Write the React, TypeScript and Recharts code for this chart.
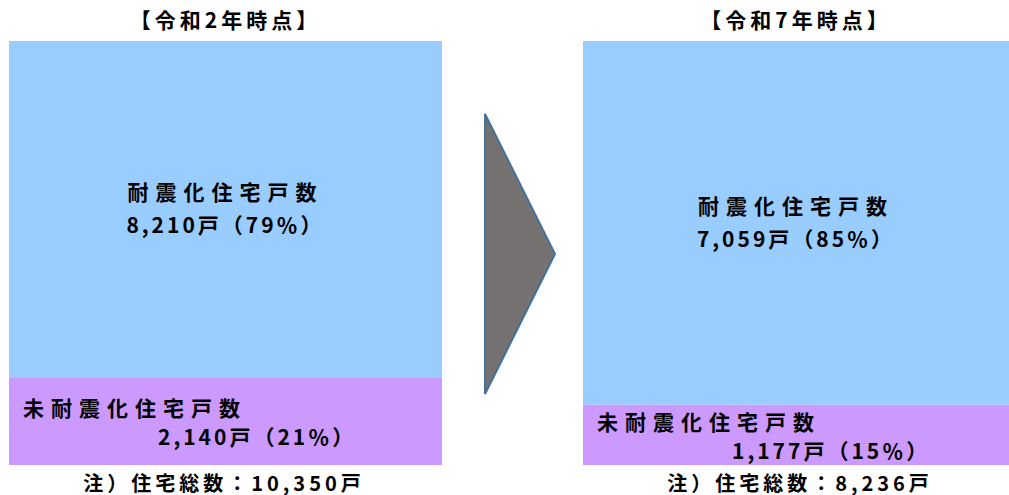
import { BarChart, Bar, XAxis, YAxis, LabelList } from 'recharts';

// 住宅戸数（令和2年 → 令和7年）
const periods = ['令和2年時点', '令和7年時点'];
const taishin = [8210, 7059];
const mitaishin = [2140, 1177];
const totals = [10350, 8236];
const taishinPct = [79, 85];
const mitaishinPct = [21, 15];

const FONT = '"Noto Sans CJK JP", "Noto Sans", sans-serif';
const BLUE = '#99CCFF';
const PURPLE = '#CC99FF';

const panels = [
  { left: 9, width: 433 },
  { left: 583, width: 426 },
];
const TOP = 41;
const BAR_H = 424;

const fmt = (v: number) => v.toLocaleString('en-US');

function BlueLabel(props: any) {
  const { x, y, width, height, idx } = props;
  const cx = x + width / 2;
  const cy = y + height / 2;
  return (
    <g fontFamily={FONT} fontWeight="bold" fill="#000" textAnchor="middle">
      <text x={cx} y={cy - 18} fontSize={21} dominantBaseline="central" style={{ letterSpacing: 7 }}>
        耐震化住宅戸数
      </text>
      <text x={cx} y={cy + 15} fontSize={21} dominantBaseline="central" style={{ letterSpacing: 3 }}>
        {`${fmt(taishin[idx])}戸（${taishinPct[idx]}％）`}
      </text>
    </g>
  );
}

function PurpleLabel(props: any) {
  const { x, y, height, idx } = props;
  const cy = y + height / 2;
  return (
    <g fontFamily={FONT} fontWeight="bold" fill="#000">
      <text x={x + 14} y={cy - 14} fontSize={21} dominantBaseline="central" style={{ letterSpacing: 7 }}>
        未耐震化住宅戸数
      </text>
      <text x={x + 149} y={cy + 15} fontSize={21} dominantBaseline="central" style={{ letterSpacing: 3 }}>
        {`${fmt(mitaishin[idx])}戸（${mitaishinPct[idx]}％）`}
      </text>
    </g>
  );
}

function Panel({ idx }: { idx: number }) {
  const data = [{ name: periods[idx], taishin: taishin[idx], mitaishin: mitaishin[idx] }];
  const p = panels[idx];
  return (
    <div style={{ position: 'absolute', left: p.left, top: TOP }}>
      <BarChart
        width={p.width}
        height={BAR_H}
        data={data}
        stackOffset="expand"
        barCategoryGap={0}
        margin={{ top: 0, right: 0, bottom: 0, left: 0 }}
      >
        <XAxis dataKey="name" hide />
        <YAxis hide domain={[0, 1]} />
        {/* first series in the stack sits at the bottom */}
        <Bar dataKey="mitaishin" stackId="a" fill={PURPLE} isAnimationActive={false}>
          <LabelList dataKey="mitaishin" content={(lp: any) => <PurpleLabel {...lp} idx={idx} />} />
        </Bar>
        <Bar dataKey="taishin" stackId="a" fill={BLUE} isAnimationActive={false}>
          <LabelList dataKey="taishin" content={(lp: any) => <BlueLabel {...lp} idx={idx} />} />
        </Bar>
      </BarChart>
    </div>
  );
}

export default function App() {
  return (
    <div style={{ position: 'absolute', left: 0, top: 0, width: 1009, height: 495, background: '#fff' }}>
      <svg width={1009} height={495} style={{ position: 'absolute', left: 0, top: 0 }}>
        <g fontFamily={FONT} fontWeight="bold" fill="#000" textAnchor="middle">
          {periods.map((t, i) => (
            <text
              key={t}
              x={panels[i].left + panels[i].width / 2}
              y={19}
              fontSize={21}
              dominantBaseline="central"
              style={{ letterSpacing: 4 }}
            >
              {`【${t}】`}
            </text>
          ))}
          {totals.map((v, i) => (
            <text
              key={i}
              x={i === 0 ? 224 : 800}
              y={482}
              fontSize={20}
              dominantBaseline="central"
              style={{ letterSpacing: 4 }}
            >
              {`注）住宅総数：${fmt(v)}戸`}
            </text>
          ))}
        </g>
        <polygon
          points="485,114 555,254 485,394"
          fill="#767171"
          stroke="#41719C"
          strokeWidth={2}
        />
      </svg>
      <Panel idx={0} />
      <Panel idx={1} />
    </div>
  );
}
